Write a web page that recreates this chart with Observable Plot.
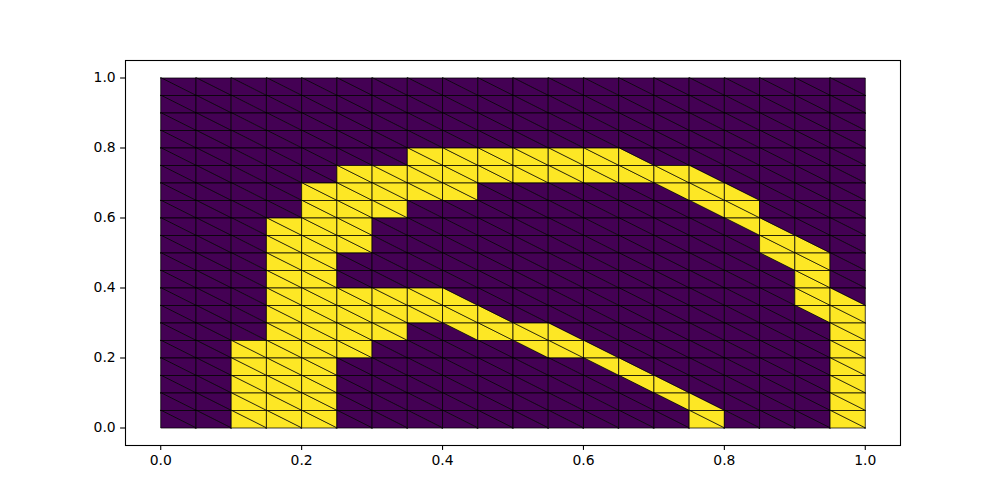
<!DOCTYPE html>
<html>
<head>
<meta charset="utf-8">
<script src="https://cdn.jsdelivr.net/npm/d3@7"></script>
<script src="https://cdn.jsdelivr.net/npm/@observablehq/plot@0.6"></script>
<style>
  html, body { margin: 0; padding: 0; background: #ffffff; }
  #chart svg { display: block; }
</style>
</head>
<body>
<div id="chart"></div>
<script>
// Grid node coordinates (20 x 20 cells, each split by a top-left -> bottom-right diagonal)
const xEdges = [0.00, 0.05, 0.10, 0.15, 0.20, 0.25, 0.30, 0.35, 0.40, 0.45, 0.50,
                0.55, 0.60, 0.65, 0.70, 0.75, 0.80, 0.85, 0.90, 0.95, 1.00];
const yEdges = [0.00, 0.05, 0.10, 0.15, 0.20, 0.25, 0.30, 0.35, 0.40, 0.45, 0.50,
                0.55, 0.60, 0.65, 0.70, 0.75, 0.80, 0.85, 0.90, 0.95, 1.00];
const xTicks = [0.0, 0.2, 0.4, 0.6, 0.8, 1.0];
const yTicks = [0.0, 0.2, 0.4, 0.6, 0.8, 1.0];

// Triangle values per cell, top row (y 0.95-1.00) first.
// "." both triangles 0, "#" both 1, "u" upper-right triangle 1, "l" lower-left triangle 1
const cellRows = [
  "....................",
  "....................",
  "....................",
  "....................",
  ".......######l......",
  ".....##########l....",
  "....#####.....u#l...",
  "....###........u#...",
  "...###..........ul..",
  "...###...........#l.",
  "...##............u#.",
  "...##.............#.",
  "...#####l.........#l",
  "...######l........u#",
  "...####.u##l.......#",
  "..####....u#l......#",
  "..###.......ul.....#",
  "..###........ul....#",
  "..###.........ul...#",
  "..###..........#...#"
];

const tris = [];
cellRows.forEach((row, r) => {
  const j = cellRows.length - 1 - r;
  for (let i = 0; i < row.length; i++) {
    const c = row[i];
    const x0 = xEdges[i], x1 = xEdges[i + 1], y0 = yEdges[j], y1 = yEdges[j + 1];
    const up = (c === "#" || c === "u") ? 1 : 0;
    const lo = (c === "#" || c === "l") ? 1 : 0;
    const idU = `u-${i}-${j}`, idL = `l-${i}-${j}`;
    // upper-right triangle: TL, TR, BR
    tris.push({tri: idU, v: up, x: x0, y: y1});
    tris.push({tri: idU, v: up, x: x1, y: y1});
    tris.push({tri: idU, v: up, x: x1, y: y0});
    // lower-left triangle: TL, BL, BR
    tris.push({tri: idL, v: lo, x: x0, y: y1});
    tris.push({tri: idL, v: lo, x: x0, y: y0});
    tris.push({tri: idL, v: lo, x: x1, y: y0});
  }
});

const chart = Plot.plot({
  width: 1000,
  height: 500,
  marginLeft: 125,
  marginRight: 100,
  marginTop: 60,
  marginBottom: 55,
  style: {fontFamily: "DejaVu Sans", fontSize: "13.9px", background: "#ffffff", color: "#000000", overflow: "visible"},
  x: {domain: [-0.05, 1.05]},
  y: {domain: [-0.05, 1.05]},
  color: {type: "linear", scheme: "viridis", domain: [0, 1]},
  marks: [
    Plot.line(tris, {x: "x", y: "y", z: "tri", fill: "v", stroke: "#000000", strokeWidth: 0.75, strokeOpacity: 1, curve: "linear-closed"}),
    Plot.frame({stroke: "#000000", strokeWidth: 1.1}),
    Plot.axisX({ticks: xTicks, tickFormat: d3.format(".1f"), tickSize: 4.9, tickPadding: 4.4, label: null, strokeWidth: 1.1}),
    Plot.axisY({ticks: yTicks, tickFormat: d3.format(".1f"), tickSize: 4.9, tickPadding: 4.9, label: null, strokeWidth: 1.1})
  ]
});
document.getElementById("chart").appendChild(chart);
</script>
</body>
</html>
